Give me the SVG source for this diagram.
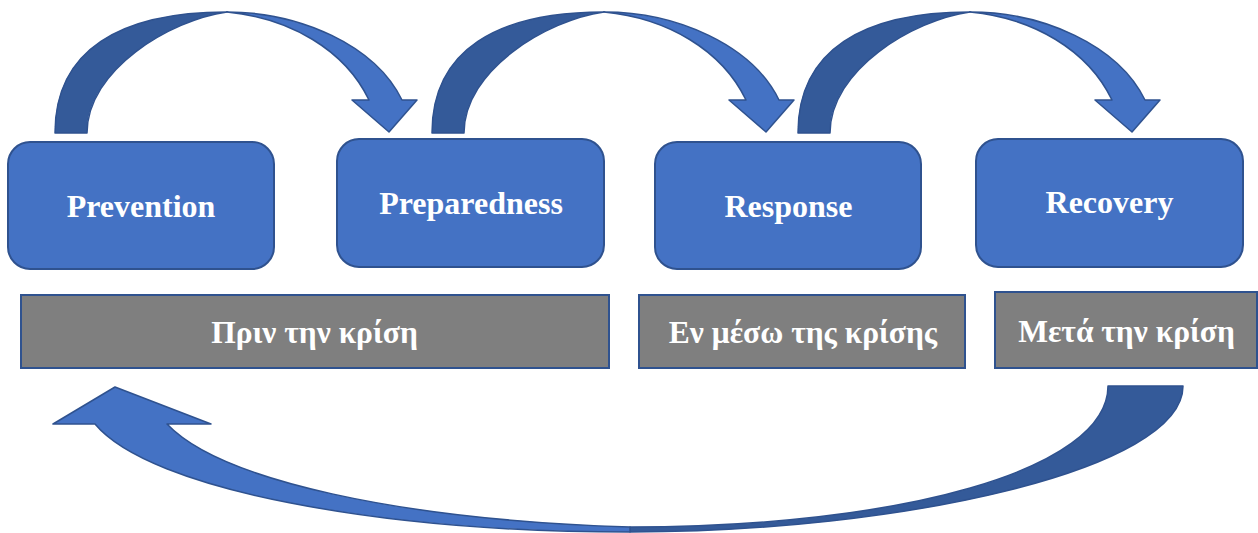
<svg xmlns="http://www.w3.org/2000/svg" width="1258" height="533" viewBox="0 0 1258 533">
<style>
.box{fill:#4472C4;stroke:#2F528F;stroke-width:2}
.bar{fill:#7F7F7F;stroke:#2F528F;stroke-width:2}
.dark{fill:#345A99;stroke:#2F528F;stroke-width:1.5;stroke-linejoin:round}
.light{fill:#4472C4;stroke:#2F528F;stroke-width:1.5;stroke-linejoin:round}
.t{font-family:"Liberation Serif","Times New Roman",serif;font-weight:bold;fill:#FFFFFF;text-anchor:middle}
.t1{font-size:32px}
.t2{font-size:31.5px}
</style>
<defs>
<g id="curved">
<path class="dark" d="M55,133 C55,50 120,12 227,12 C170,20 87,70 87,133 Z"/>
<path class="light" d="M227,12 C300,12 375,45 402,100 L417,100 L389,132 L352,100 L369,100 C345,50 290,18 227,12 Z"/>
</g>
</defs>
<g id="connectors">
<use href="#curved"/>
<use href="#curved" transform="translate(377,0)"/>
<use href="#curved" transform="translate(743,0)"/>
<path class="dark" d="M1108,386 L1183,386 C1183,470 900,532 630,532 L630,527 C900,527 1108,470 1108,386 Z"/>
<path class="light" d="M630,527 C400,520 220,480 167,424 L211,424 L115,387 L53,424 L95,424 C150,490 380,532 630,532 Z"/>
</g>
<g id="prevention">
<rect class="box" x="8" y="142" width="266" height="127" rx="22"/>
<text class="t t1" x="141" y="217">Prevention</text>
</g>
<g id="preparedness">
<rect class="box" x="337" y="139" width="267" height="128" rx="22"/>
<text class="t t1" x="471" y="214">Preparedness</text>
</g>
<g id="response">
<rect class="box" x="655" y="142" width="266" height="127" rx="22"/>
<text class="t t1" x="788.5" y="217">Response</text>
</g>
<g id="recovery">
<rect class="box" x="976" y="139" width="267" height="128" rx="22"/>
<text class="t t1" x="1109.5" y="213">Recovery</text>
</g>
<g id="before">
<rect class="bar" x="21" y="295" width="588" height="73"/>
<text class="t t2" x="314.5" y="343">Πριν την κρίση</text>
</g>
<g id="during">
<rect class="bar" x="639" y="295" width="326" height="73"/>
<text class="t t2" x="803" y="343">Εν μέσω της κρίσης</text>
</g>
<g id="after">
<rect class="bar" x="995" y="292" width="262" height="76"/>
<text class="t t2" x="1126.5" y="342">Μετά την κρίση</text>
</g>
</svg>
